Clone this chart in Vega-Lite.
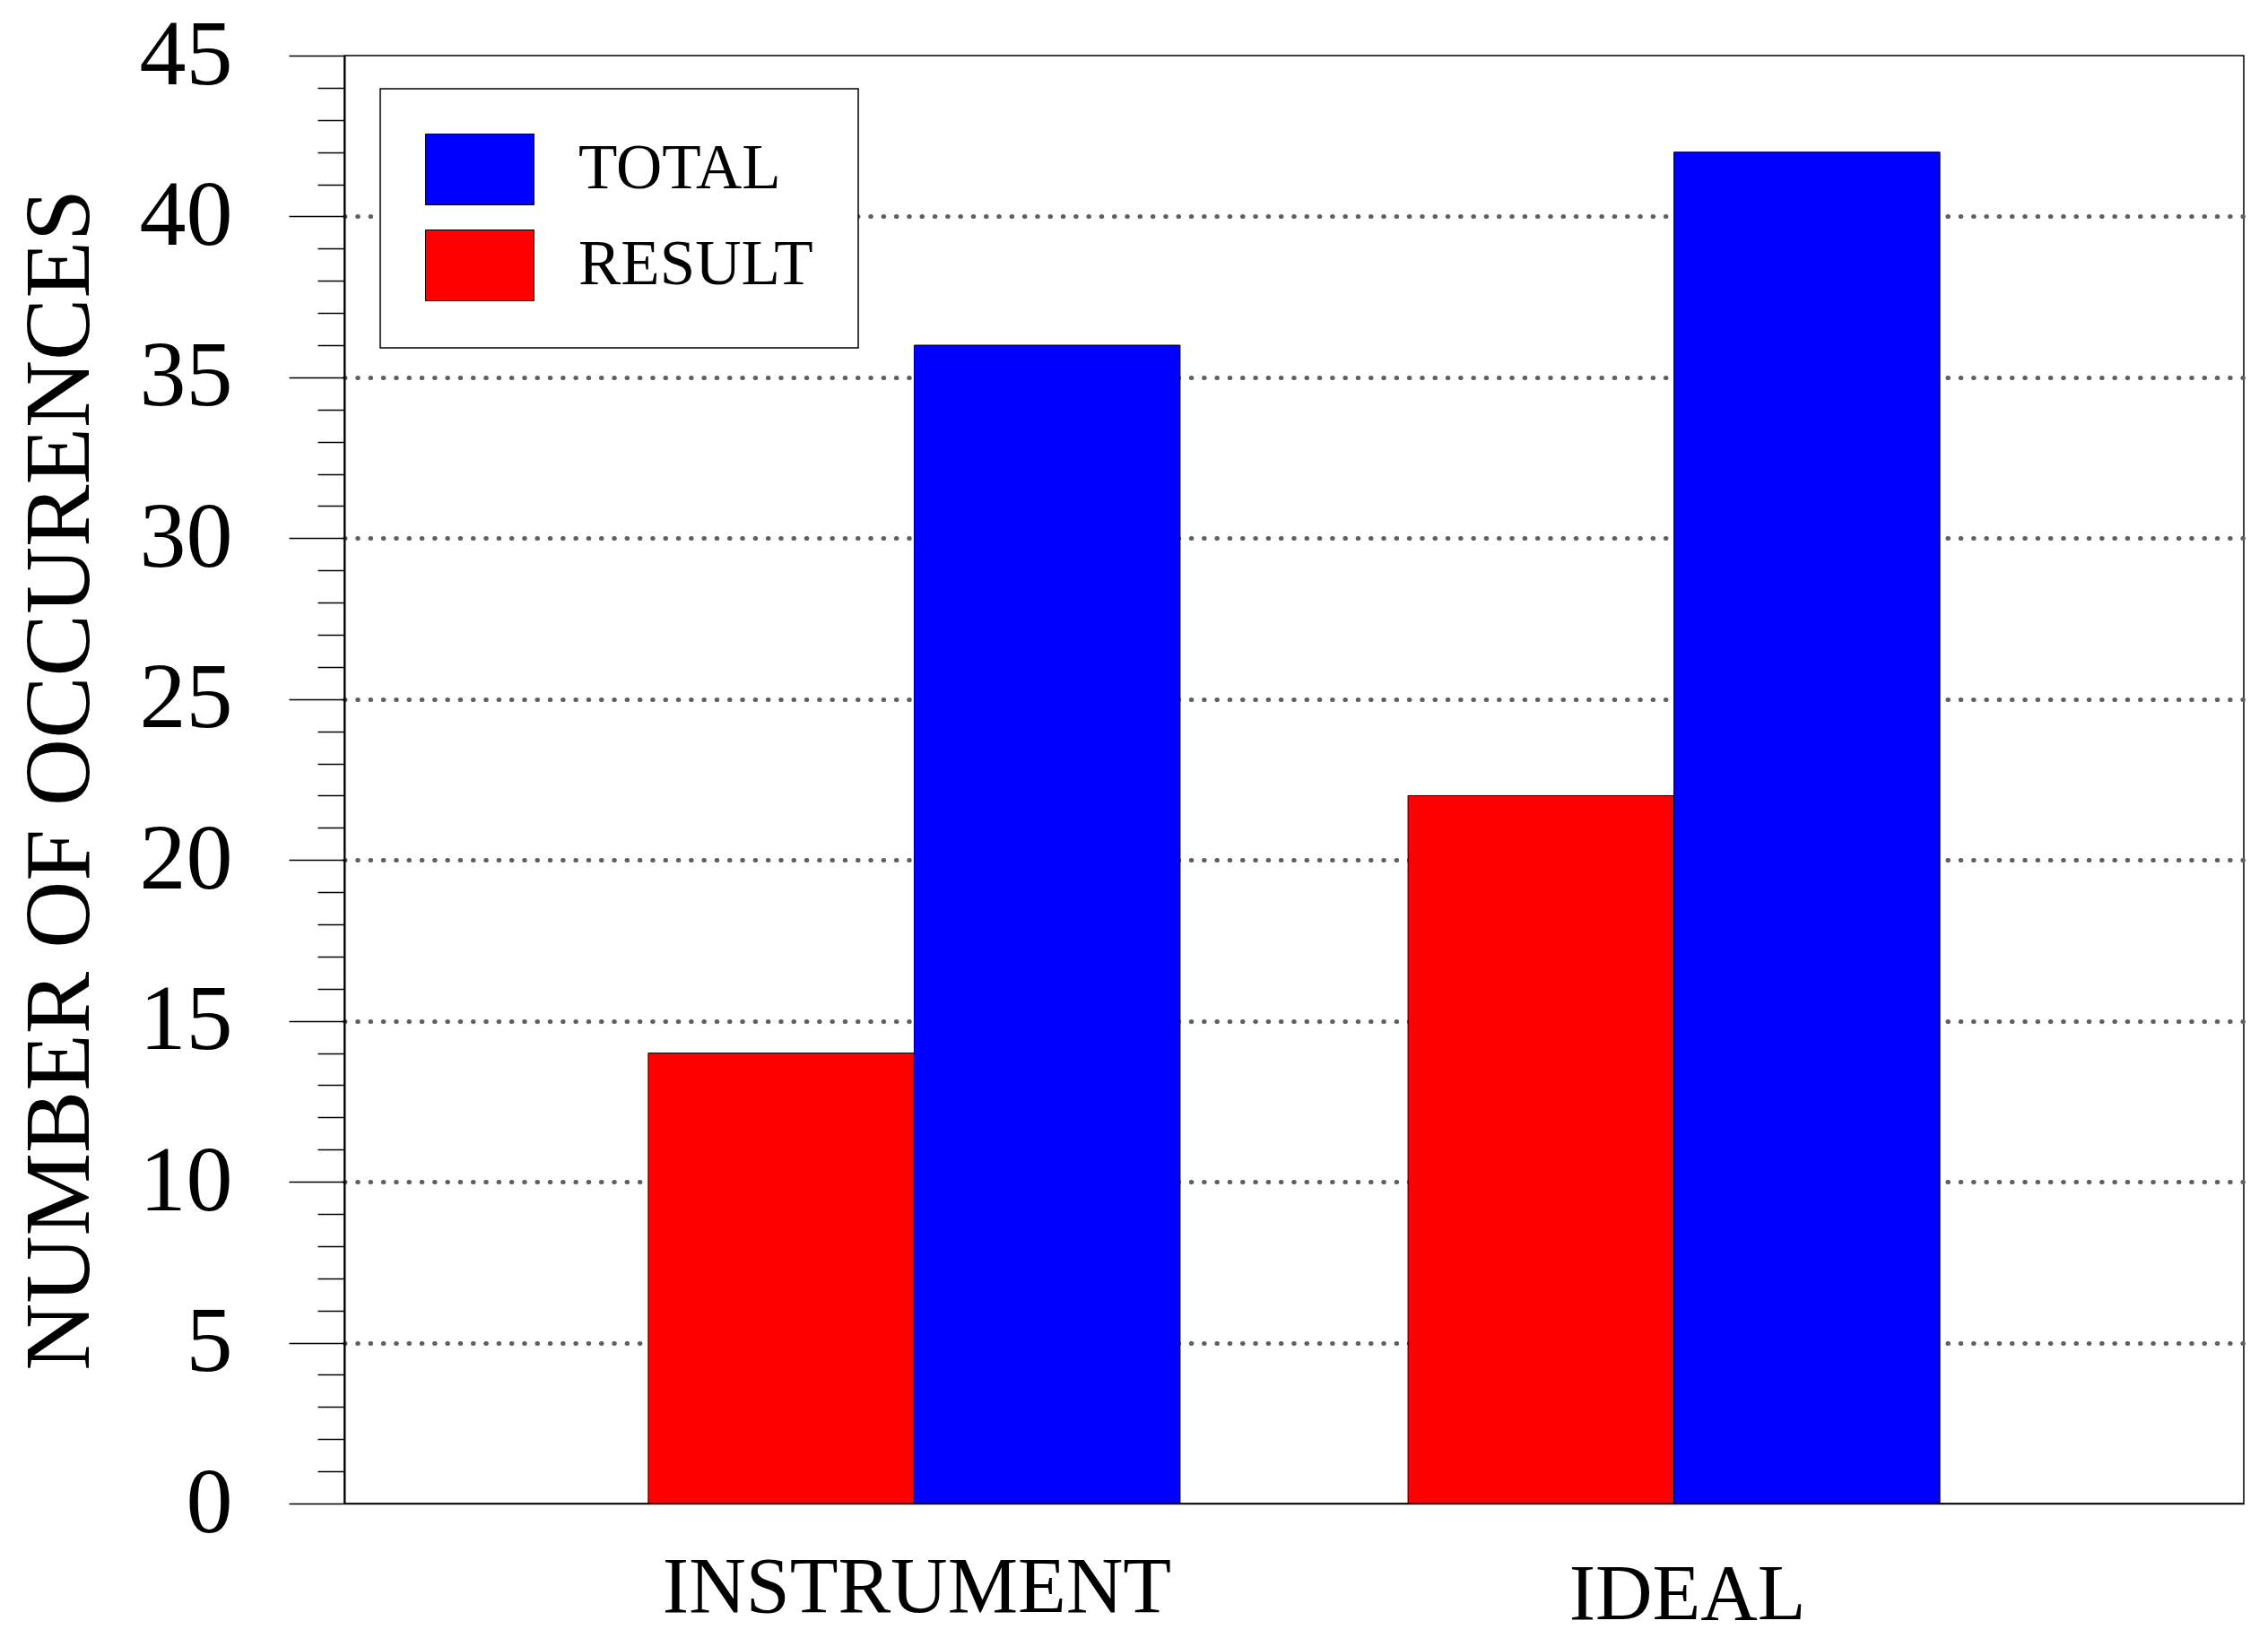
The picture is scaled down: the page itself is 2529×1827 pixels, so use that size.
{
  "$schema": "https://vega.github.io/schema/vega-lite/v6.json",
  "width": 2118,
  "height": 1615,
  "autosize": {"type": "none"},
  "padding": {"left": 384, "top": 62, "right": 27, "bottom": 150},
  "background": "white",
  "config": {
    "view": {"stroke": "black", "strokeWidth": 1.5},
    "font": "Liberation Serif",
    "legend": {"strokeWidth": 1.5}
  },
  "data": {
    "values": [
      {"category": "INSTRUMENT", "series": "RESULT", "count": 14},
      {"category": "INSTRUMENT", "series": "TOTAL", "count": 36},
      {"category": "IDEAL", "series": "RESULT", "count": 22},
      {"category": "IDEAL", "series": "TOTAL", "count": 42}
    ]
  },
  "mark": {"type": "bar", "stroke": "black", "strokeWidth": 1},
  "encoding": {
    "x": {
      "field": "category",
      "type": "nominal",
      "sort": ["INSTRUMENT", "IDEAL"],
      "scale": {"paddingInner": 0.3, "paddingOuter": 0.4},
      "axis": {
        "title": null,
        "ticks": false,
        "tickSize": 0,
        "grid": false,
        "domainColor": "black",
        "domainWidth": 1.5,
        "labelFont": "Liberation Serif",
        "labelFontSize": 88,
        "labelColor": "black",
        "labelAngle": 0,
        "labelAlign": "center",
        "labelBaseline": "alphabetic",
        "labelLimit": 2000,
        "labelPadding": {"condition": {"test": "datum.value === 'IDEAL'", "value": 128}, "value": 120},
        "labelOffset": {"condition": {"test": "datum.value === 'IDEAL'", "value": 15}, "value": 3}
      }
    },
    "xOffset": {
      "field": "series",
      "type": "nominal",
      "sort": ["RESULT", "TOTAL"],
      "scale": {"paddingInner": 0, "paddingOuter": 0}
    },
    "y": {
      "field": "count",
      "type": "quantitative",
      "scale": {"domain": [0, 45], "nice": false},
      "axis": {
        "title": "NUMBER OF OCCURENCES",
        "titleFont": "Liberation Serif",
        "titleFontSize": 104,
        "titleFontWeight": "normal",
        "titleColor": "black",
        "titleX": -286,
        "titleBaseline": "alphabetic",
        "titleAngle": 270,
        "tickCount": 45,
        "tickSize": {"condition": {"test": "datum.value % 5 === 0", "value": 62}, "value": 30},
        "tickColor": "black",
        "tickWidth": 1.5,
        "labelExpr": "datum.value % 5 === 0 ? datum.label : ''",
        "labelFont": "Liberation Serif",
        "labelFontSize": 104,
        "labelColor": "black",
        "labelPadding": 63,
        "labelOverlap": false,
        "labelBound": false,
        "labelFlush": false,
        "labelBaseline": "middle",
        "domainColor": "black",
        "domainWidth": 2,
        "grid": true,
        "gridColor": "#5f5f5f",
        "gridWidth": 5,
        "gridDash": [0.5, 13.8],
        "gridCap": "round",
        "gridOpacity": {"condition": {"test": "datum.value % 5 === 0 && datum.value > 0 && datum.value < 45", "value": 1}, "value": 0}
      }
    },
    "color": {
      "field": "series",
      "type": "nominal",
      "scale": {"domain": ["TOTAL", "RESULT"], "range": ["#0000ff", "#ff0000"]},
      "legend": {
        "title": null,
        "orient": "none",
        "legendX": 40,
        "legendY": 37,
        "direction": "vertical",
        "strokeColor": "black",
        "fillColor": "white",
        "padding": 50,
        "rowPadding": 23,
        "symbolType": "M-1.532,-1H1.532V1H-1.532Z",
        "symbolSize": 6241,
        "symbolStrokeColor": "black",
        "symbolStrokeWidth": 1,
        "symbolOffset": 21,
        "symbolOpacity": 1,
        "labelFont": "Liberation Serif",
        "labelFontSize": 71,
        "labelColor": "black",
        "labelOffset": 70,
        "labelLimit": 1000,
        "labelBaseline": "middle"
      }
    }
  }
}
